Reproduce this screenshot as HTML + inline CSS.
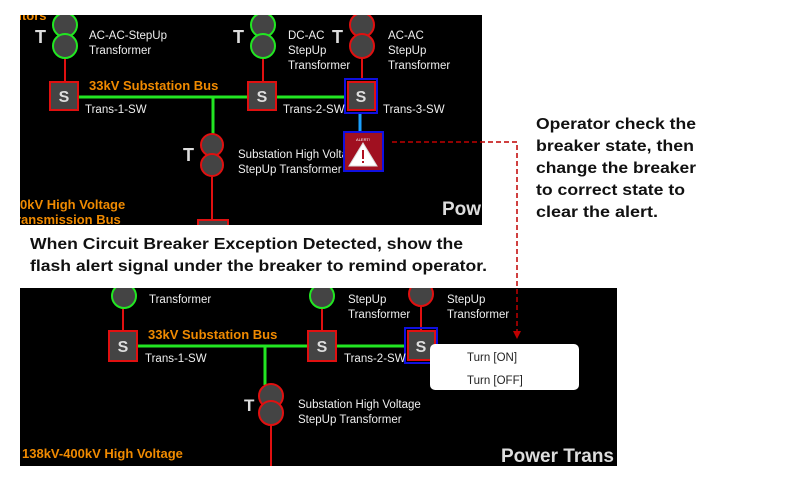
<!DOCTYPE html>
<html><head><meta charset="utf-8"><style>
html,body{margin:0;padding:0;background:#fff;}
svg{display:block;}
text{font-family:"Liberation Sans",sans-serif;}
</style></head><body>
<svg width="800" height="486" viewBox="0 0 800 486" xmlns="http://www.w3.org/2000/svg">
<rect width="800" height="486" fill="#fff"/>
<defs>
<clipPath id="c1"><rect x="20" y="15" width="462" height="210"/></clipPath>
<clipPath id="c2"><rect x="20" y="288" width="597" height="178"/></clipPath>
</defs>

<!-- TOP PANEL -->
<g clip-path="url(#c1)">
<rect x="20" y="15" width="462" height="210" fill="#000"/>
<text x="14" y="20" fill="#f08a00" font-size="13" font-weight="bold">utors</text>
<!-- lines -->
<line x1="78" y1="97" x2="346" y2="97" stroke="#22e622" stroke-width="3"/>
<line x1="213" y1="97" x2="213" y2="135" stroke="#22e622" stroke-width="3"/>
<line x1="65" y1="58" x2="65" y2="82" stroke="#e01010" stroke-width="2"/>
<line x1="263" y1="58" x2="263" y2="82" stroke="#e01010" stroke-width="2"/>
<line x1="362" y1="58" x2="362" y2="80" stroke="#e01010" stroke-width="2"/>
<line x1="360" y1="113" x2="360" y2="132" stroke="#1aa0ff" stroke-width="3"/>
<line x1="212" y1="177" x2="212" y2="222" stroke="#e01010" stroke-width="2"/>
<rect x="198" y="220" width="30" height="12" fill="#444" stroke="#e01010" stroke-width="2"/>
<!-- transformers -->
<g fill="#444" stroke-width="2">
<circle cx="65" cy="25" r="12" stroke="#22e622"/><circle cx="65" cy="46" r="12" stroke="#22e622"/>
<circle cx="263" cy="25" r="12" stroke="#22e622"/><circle cx="263" cy="46" r="12" stroke="#22e622"/>
<circle cx="362" cy="25" r="12" stroke="#e01010"/><circle cx="362" cy="46" r="12" stroke="#e01010"/>
<circle cx="212" cy="145" r="11" stroke="#e01010"/><circle cx="212" cy="165" r="11" stroke="#e01010"/>
</g>
<g fill="#ddd" font-size="18" font-weight="bold">
<text x="35" y="43">T</text><text x="233" y="43">T</text><text x="332" y="43">T</text><text x="183" y="161">T</text>
</g>
<!-- S boxes -->
<g>
<rect x="50" y="82" width="28" height="28" fill="#444" stroke="#e01010" stroke-width="2"/>
<rect x="248" y="82" width="28" height="28" fill="#444" stroke="#e01010" stroke-width="2"/>
<rect x="345" y="79" width="32" height="34" fill="none" stroke="#1010e0" stroke-width="2"/>
<rect x="348" y="82" width="27" height="28" fill="#444" stroke="#e01010" stroke-width="2"/>
</g>
<g fill="#ddd" font-size="16" font-weight="bold" text-anchor="middle">
<text x="64" y="102">S</text><text x="262" y="102">S</text><text x="361" y="102">S</text>
</g>
<g fill="#eee" font-size="11.5">
<text x="89" y="39">AC-AC-StepUp</text><text x="89" y="54">Transformer</text>
<text x="288" y="39">DC-AC</text><text x="288" y="54">StepUp</text><text x="288" y="69">Transformer</text>
<text x="388" y="39">AC-AC</text><text x="388" y="54">StepUp</text><text x="388" y="69">Transformer</text>
<text x="85" y="113">Trans-1-SW</text><text x="283" y="113">Trans-2-SW</text><text x="383" y="113">Trans-3-SW</text>
<text x="238" y="158">Substation High Voltage</text><text x="238" y="173">StepUp Transformer</text>
</g>
<text x="89" y="90" fill="#f08a00" font-size="13" font-weight="bold">33kV Substation Bus</text>
<text x="20" y="209" fill="#f08a00" font-size="13" font-weight="bold">0kV High Voltage</text>
<text x="16" y="224" fill="#f08a00" font-size="13" font-weight="bold">ransmission Bus</text>
<text x="442" y="215" fill="#ddd" font-size="19" font-weight="bold">Pow</text>
<!-- alert -->
<rect x="344" y="132" width="39" height="39" fill="#a01020" stroke="#1010e0" stroke-width="2"/>
<text x="363" y="141" fill="#fff" font-size="4" text-anchor="middle">ALERT!</text>
<polygon points="363,143 377,166 349,166" fill="#fff" stroke="#ddd" stroke-width="1"/>
<rect x="362" y="150" width="2" height="9" fill="#b01020"/>
<rect x="362" y="161" width="2" height="2" fill="#b01020"/>
</g>

<!-- callout texts -->
<g font-size="15.5" font-weight="bold" fill="#111">
<text x="30" y="249" textLength="433" lengthAdjust="spacingAndGlyphs">When Circuit Breaker Exception Detected, show the</text>
<text x="30" y="271" textLength="457" lengthAdjust="spacingAndGlyphs">flash alert signal under the breaker to remind operator.</text>
<text x="536" y="129" textLength="160" lengthAdjust="spacingAndGlyphs">Operator check the</text>
<text x="536" y="151" textLength="158" lengthAdjust="spacingAndGlyphs">breaker state, then</text>
<text x="536" y="173" textLength="160" lengthAdjust="spacingAndGlyphs">change the breaker</text>
<text x="536" y="195" textLength="149" lengthAdjust="spacingAndGlyphs">to correct state to</text>
<text x="536" y="217" textLength="122" lengthAdjust="spacingAndGlyphs">clear the alert.</text>
</g>

<!-- BOTTOM PANEL -->
<g clip-path="url(#c2)">
<rect x="20" y="288" width="597" height="178" fill="#000"/>
<line x1="138" y1="346" x2="406" y2="346" stroke="#22e622" stroke-width="3"/>
<line x1="265" y1="346" x2="265" y2="385" stroke="#22e622" stroke-width="3"/>
<line x1="123" y1="307" x2="123" y2="332" stroke="#e01010" stroke-width="2"/>
<line x1="322" y1="307" x2="322" y2="332" stroke="#e01010" stroke-width="2"/>
<line x1="421" y1="307" x2="421" y2="330" stroke="#e01010" stroke-width="2"/>
<line x1="271" y1="423" x2="271" y2="470" stroke="#e01010" stroke-width="2"/>
<g fill="#444" stroke-width="2">
<circle cx="124" cy="296" r="12" stroke="#22e622"/>
<circle cx="322" cy="296" r="12" stroke="#22e622"/>
<circle cx="421" cy="294" r="12" stroke="#e01010"/>
<circle cx="271" cy="396" r="12" stroke="#e01010"/><circle cx="271" cy="413" r="12" stroke="#e01010"/>
</g>
<text x="244" y="411" fill="#ddd" font-size="17" font-weight="bold">T</text>
<rect x="109" y="331" width="28" height="30" fill="#444" stroke="#e01010" stroke-width="2"/>
<rect x="308" y="331" width="28" height="30" fill="#444" stroke="#e01010" stroke-width="2"/>
<rect x="405" y="328" width="32" height="35" fill="none" stroke="#1010e0" stroke-width="2"/>
<rect x="408" y="331" width="27" height="29" fill="#444" stroke="#e01010" stroke-width="2"/>
<g fill="#ddd" font-size="16" font-weight="bold" text-anchor="middle">
<text x="123" y="352">S</text><text x="322" y="352">S</text><text x="421" y="352">S</text>
</g>
<g fill="#eee" font-size="11.5">
<text x="149" y="303">Transformer</text>
<text x="348" y="303">StepUp</text><text x="348" y="318">Transformer</text>
<text x="447" y="303">StepUp</text><text x="447" y="318">Transformer</text>
<text x="145" y="362">Trans-1-SW</text><text x="344" y="362">Trans-2-SW</text>
<text x="298" y="408">Substation High Voltage</text><text x="298" y="423">StepUp Transformer</text>
</g>
<text x="148" y="339" fill="#f08a00" font-size="13" font-weight="bold">33kV Substation Bus</text>
<text x="22" y="458" fill="#f08a00" font-size="13" font-weight="bold">138kV-400kV High Voltage</text>
<text x="501" y="462" fill="#ddd" font-size="19" font-weight="bold">Power Trans</text>
<rect x="430" y="344" width="149" height="46" rx="5" fill="#fff"/>
<text x="467" y="361" fill="#222" font-size="11.5">Turn [ON]</text>
<text x="467" y="384" fill="#222" font-size="11.5">Turn [OFF]</text>
</g>

<!-- dashed connector -->
<polyline points="392,142 517,142 517,332" fill="none" stroke="#c00000" stroke-width="1.5" stroke-dasharray="5,3"/>
<polygon points="513,331 521,331 517,339" fill="#c00000"/>
</svg>
</body></html>
